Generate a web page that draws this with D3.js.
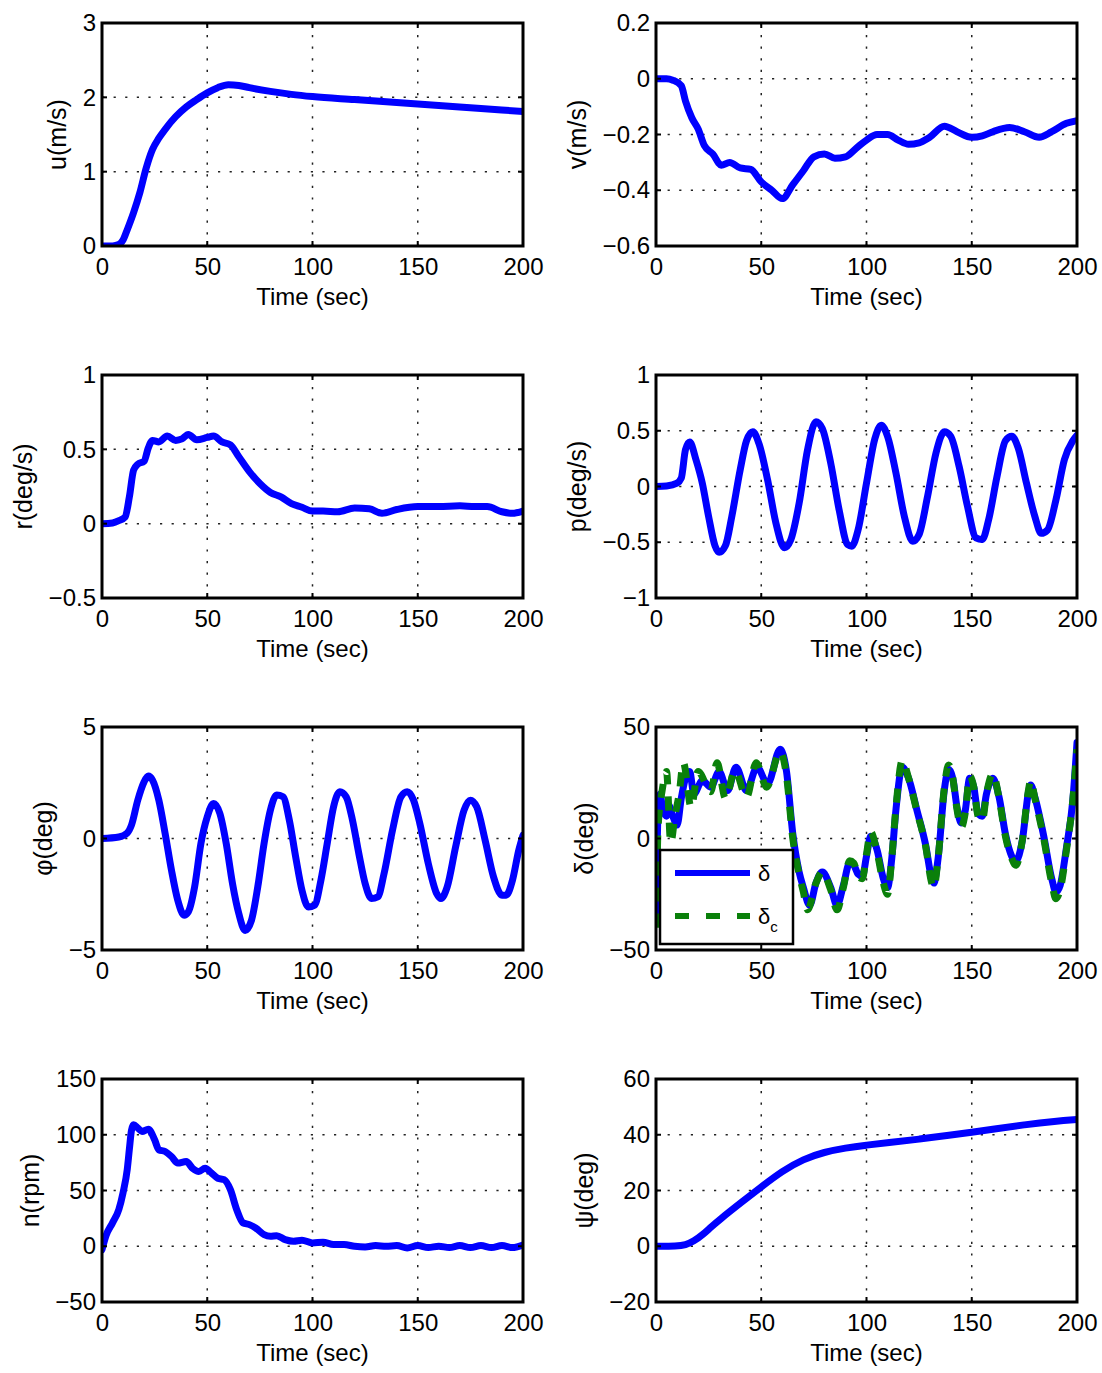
<!DOCTYPE html>
<html><head><meta charset="utf-8">
<script src="https://cdn.jsdelivr.net/npm/d3@7"></script>
<style>
body{margin:0;background:#fff}
svg{display:block}
text{font-family:"Liberation Sans",Arial,Helvetica,sans-serif;fill:#000}
</style>
</head><body>
<svg id="chart" width="1102" height="1373"></svg>
<script>
// ---------------- DATA ----------------
const timeTicks = [0, 50, 100, 150, 200];

const uTicks = [0, 1, 2, 3];
const uTime = [0,5,8,10,12,15,18,21,24,27,30,35,40,45,50,55,60,65,70,80,90,100,120,140,160,180,200];
const uVals = [0,0,0.02,0.08,0.22,0.45,0.72,1.05,1.3,1.45,1.57,1.74,1.87,1.97,2.06,2.13,2.17,2.16,2.13,2.08,2.04,2.01,1.97,1.93,1.89,1.85,1.81];

const vTicks = [-0.6, -0.4, -0.2, 0, 0.2];
const vTime = [0,5,8,12,14,17,20,23,27,31,35,40,45,50,55,60,65,70,75,80,85,90,95,100,105,110,115,120,125,130,137,143,150,155,160,168,175,182,188,195,200];
const vVals = [0,0,-0.005,-0.025,-0.08,-0.14,-0.18,-0.24,-0.27,-0.31,-0.30,-0.32,-0.325,-0.37,-0.40,-0.43,-0.38,-0.33,-0.28,-0.27,-0.285,-0.28,-0.25,-0.22,-0.20,-0.20,-0.22,-0.235,-0.23,-0.21,-0.17,-0.19,-0.21,-0.205,-0.19,-0.175,-0.19,-0.21,-0.19,-0.16,-0.15];

const rTicks = [-0.5, 0, 0.5, 1];
const rTime = [0,5,8,11,13,15,17,20,22,24,27,31,35,38,41,45,50,53,57,61,65,70,75,80,85,90,95,100,105,112,120,127,133,140,150,160,170,177,183,190,195,200];
const rVals = [0,0.005,0.02,0.045,0.18,0.36,0.40,0.42,0.51,0.56,0.55,0.59,0.56,0.57,0.60,0.565,0.58,0.59,0.55,0.53,0.45,0.35,0.27,0.21,0.18,0.135,0.11,0.085,0.085,0.08,0.105,0.10,0.07,0.095,0.115,0.115,0.12,0.115,0.115,0.08,0.07,0.085];

const pTicks = [-1, -0.5, 0, 0.5, 1];
const pTime = [0,5,10,12,14,16,19,22,25,28,30,33,36,40,43,46,49,53,57,61,64,68,72,76,79,83,87,91,93,96,100,104,107,110,114,118,122,125,129,133,137,140,144,148,152,155,158,162,166,169,172,176,180,183,186,190,194,198,200];
const pVals = [0,0.005,0.03,0.075,0.33,0.40,0.24,0.03,-0.27,-0.53,-0.59,-0.53,-0.27,0.15,0.41,0.49,0.38,0.06,-0.33,-0.55,-0.48,-0.15,0.33,0.58,0.52,0.21,-0.21,-0.52,-0.535,-0.39,0.03,0.43,0.55,0.45,0.12,-0.27,-0.49,-0.43,-0.09,0.30,0.49,0.45,0.18,-0.18,-0.46,-0.475,-0.30,0.09,0.41,0.45,0.35,0.03,-0.27,-0.42,-0.39,-0.12,0.24,0.41,0.46];

const phiTicks = [-5, 0, 5];
const phiTime = [0,8,12,14,17,20,22,24,27,30,33,36,39,41,44,47,50,53,56,59,62,65,68,71,74,77,80,83,86,89,92,95,98,101,104,107,110,113,116,119,122,125,128,131,134,138,142,145,148,151,155,159,161,164,168,172,175,178,182,186,190,192,195,198,200];
const phiVals = [0,0.07,0.25,0.6,1.72,2.54,2.8,2.62,1.72,0.22,-1.42,-2.77,-3.44,-3.29,-2.17,-0.22,0.97,1.57,1.12,-0.22,-2.02,-3.37,-4.12,-3.67,-2.17,-0.22,1.27,1.95,1.87,0.82,-0.82,-2.32,-3.07,-2.99,-1.87,-0.22,1.42,2.1,1.87,0.82,-0.67,-2.02,-2.69,-2.62,-1.57,0.37,1.87,2.1,1.72,0.67,-1.12,-2.47,-2.69,-2.17,-0.37,1.27,1.72,1.42,-0.07,-1.72,-2.54,-2.54,-1.87,-0.52,0.15];

const deltaTicks = [-50, 0, 50];
const deltaTime = [0,1,2,3,5,6,8,10,12,14,16,18,22,26,30,34,38,43,48,53,59,62,65,68,70,73,76,79,83,86,89,92,94,96,98,100,102,105,108,110,112,114,117,120,124,128,131,132,134,137,139,141,143,145,147,149,151,153,155,157,160,163,166,169,171,174,177,178,180,184,188,190,192,195,198,200];
const deltaVals = [-35,12,20,14,10,15,10,6,18,27,30,20,26,23,30,21.5,32,21.5,32,24.5,40,30,2,-15,-22,-30,-20,-15,-22,-30,-21,-11,-12,-16,-17,-8,1,-5,-18,-22,-9,13,32,27,12.5,-2.5,-18,-20,-9,22,31,27,14,7,13,27,23,11,10,20,27,18.5,2,-8,-10,-1,21,24,18.5,2,-18,-24,-21,-4,17,43];
const deltaCTime = [0,1,3,5,7,9,11,13,16.7,20,26,29,33,37.5,43,47.6,52.5,59,62,65,68,70,72,76,79,83,86,89,92,94,96,98,100,102,105,108,110,112,114,117,120,124,128,131,132,134,137,139,141,143,145,147,149,151,153,155,157,160,163,166,169,171,174,177,178,180,184,188,190,192,195,198,200];
const deltaCVals = [-40,5,22,30,-2,10,20,34,14,30,21,34,18,30.5,18.5,34,23,39,28,0,-16,-24,-32,-20,-15,-23,-32,-22,-10,-11,-17,-18,-7,3,-6,-20,-25,-9,14,35,27,12,-3,-20,-22,-9,23,33,27,13,5,12,28,23,10,8,20,29,18,1,-9,-12,-1,22,26,18,1,-20,-27,-23,-5,17,40];

const nTicks = [-50, 0, 50, 100, 150];
const nTime = [0,2,5,8,10,12,13,14,15,17,19,22,25,27,30,33,36,40,43,46,49,52,55,58,61,64,67,70,73,77,80,83,87,91,95,100,105,110,115,120,125,130,135,140,145,150,155,160,165,170,175,180,185,190,195,200];
const nVals = [-3,10,21,33,48,69,87,104,109,106,103,105,95.5,86.5,85,80.5,74.6,76,70,67,70,65.7,61,59.7,50.7,32.8,21,19.4,16.4,10.4,9,9.5,6,4.5,5.4,3,3.6,1.5,1.5,0,-0.6,0.6,0,0.6,-1.5,0.6,-1.2,0,-1.2,0.6,-1.2,0.6,-1.2,0.6,-1.2,1.2];

const psiTicks = [-20, 0, 20, 40, 60];
const psiTime = [0,10,14,18,22,26,30,40,50,60,70,80,90,100,110,125,140,150,160,175,190,200];
const psiVals = [0,0,0.4,1.8,4,6.8,9.4,15.4,21.3,27,31.3,33.8,35.3,36.3,37.1,38.4,39.9,40.9,42,43.6,44.9,45.5];

const legendLabels = ["δ", "δ", "c"];

// ---------------- LAYOUT ----------------
const colLeft = [102, 656];
const plotW = 421;
const rowTop = [23, 375, 727, 1079];
const plotH = 223;
const BLUE = "#0000ff", GREEN = "#0a800a";

const panels = [
  {col:0,row:0,label:"u(m/s)",ticks:uTicks,series:[{t:uTime,v:uVals,color:BLUE}]},
  {col:1,row:0,label:"v(m/s)",ticks:vTicks,series:[{t:vTime,v:vVals,color:BLUE}]},
  {col:0,row:1,label:"r(deg/s)",ticks:rTicks,series:[{t:rTime,v:rVals,color:BLUE}]},
  {col:1,row:1,label:"p(deg/s)",ticks:pTicks,series:[{t:pTime,v:pVals,color:BLUE}]},
  {col:0,row:2,label:"φ(deg)",ticks:phiTicks,series:[{t:phiTime,v:phiVals,color:BLUE}]},
  {col:1,row:2,label:"δ(deg)",ticks:deltaTicks,legend:true,series:[{t:deltaTime,v:deltaVals,color:BLUE},{t:deltaCTime,v:deltaCVals,color:GREEN,dash:true}]},
  {col:0,row:3,label:"n(rpm)",ticks:nTicks,series:[{t:nTime,v:nVals,color:BLUE}]},
  {col:1,row:3,label:"ψ(deg)",ticks:psiTicks,smooth:true,series:[{t:psiTime,v:psiVals,color:BLUE}]}
];

const svg = d3.select("#chart");
const fmt = d => (d < 0 ? "\u2212" : "") + String(Math.abs(d));

panels.forEach((p, idx) => {
  const L = colLeft[p.col], T = rowTop[p.row], R = L + plotW, B = T + plotH;
  const x = d3.scaleLinear().domain([0, 200]).range([L, R]);
  const yDom = d3.extent(p.ticks);
  const y = d3.scaleLinear().domain(yDom).range([B, T]);
  const g = svg.append("g");

  g.append("clipPath").attr("id", "clip" + idx)
    .append("rect").attr("x", L).attr("y", T).attr("width", plotW).attr("height", plotH);

  // grid
  const grid = g.append("g").attr("stroke", "#222").attr("stroke-width", 1.5)
    .attr("stroke-dasharray", "2.2,9.4").attr("fill", "none");
  timeTicks.filter(d => d > 0 && d < 200).forEach(d => {
    grid.append("line").attr("x1", x(d)).attr("x2", x(d)).attr("y1", B).attr("y2", T);
  });
  p.ticks.filter(d => d > yDom[0] && d < yDom[1]).forEach(d => {
    grid.append("line").attr("x1", L).attr("x2", R).attr("y1", y(d)).attr("y2", y(d));
  });

  // series
  const lg = g.append("g").attr("clip-path", `url(#clip${idx})`);
  p.series.forEach(s => {
    const line = d3.line().x(i => x(s.t[i])).y(i => y(s.v[i]))
      .curve(p.smooth ? d3.curveBasis : d3.curveMonotoneX);
    const path = lg.append("path").attr("d", line(d3.range(s.t.length)))
      .attr("fill", "none").attr("stroke", s.color).attr("stroke-width", 7)
      .attr("stroke-linejoin", "round");
    if (s.dash) path.attr("stroke-dasharray", "14,12").attr("stroke-linecap", "butt");
    else path.attr("stroke-linecap", "round");
  });

  // frame
  g.append("rect").attr("x", L).attr("y", T).attr("width", plotW).attr("height", plotH)
    .attr("fill", "none").attr("stroke", "#000").attr("stroke-width", 3);

  // inward ticks
  const tk = g.append("g").attr("stroke", "#000").attr("stroke-width", 2);
  timeTicks.forEach(d => {
    tk.append("line").attr("x1", x(d)).attr("x2", x(d)).attr("y1", B).attr("y2", B - 5);
    tk.append("line").attr("x1", x(d)).attr("x2", x(d)).attr("y1", T).attr("y2", T + 5);
  });
  p.ticks.forEach(d => {
    tk.append("line").attr("x1", L).attr("x2", L + 5).attr("y1", y(d)).attr("y2", y(d));
    tk.append("line").attr("x1", R).attr("x2", R - 5).attr("y1", y(d)).attr("y2", y(d));
  });

  // axes labels via d3 axes
  const ax = g.append("g").attr("transform", `translate(0,${B})`)
    .call(d3.axisBottom(x).tickValues(timeTicks).tickFormat(fmt).tickSize(0).tickPadding(12));
  const ay = g.append("g").attr("transform", `translate(${L},0)`)
    .call(d3.axisLeft(y).tickValues(p.ticks).tickFormat(fmt).tickSize(0).tickPadding(6));
  [ax, ay].forEach(a => {
    a.select(".domain").remove();
    a.selectAll("text").attr("font-size", 24).attr("fill", "#000")
      .style("font-family", '"Liberation Sans",Arial,sans-serif');
  });

  let maxW = 0;
  ay.selectAll("text").each(function () { maxW = Math.max(maxW, this.getComputedTextLength()); });
  const labelX = L - 6 - maxW - 25;

  g.append("text").attr("x", (L + R) / 2).attr("y", B + 59)
    .attr("text-anchor", "middle").attr("font-size", 24).text("Time (sec)");
  g.append("text").attr("transform", `translate(${labelX},${(T + B) / 2}) rotate(-90)`)
    .attr("dy", "0.35em").attr("text-anchor", "middle").attr("font-size", 25).text(p.label);

  if (p.legend) {
    const lgx = L + 4, lgy = T + 123;
    const leg = g.append("g");
    leg.append("rect").attr("x", lgx).attr("y", lgy).attr("width", 133).attr("height", 94)
      .attr("fill", "#fff").attr("stroke", "#000").attr("stroke-width", 2.5);
    leg.append("line").attr("x1", lgx + 15).attr("x2", lgx + 90).attr("y1", lgy + 23).attr("y2", lgy + 23)
      .attr("stroke", BLUE).attr("stroke-width", 6);
    leg.append("line").attr("x1", lgx + 15).attr("x2", lgx + 90).attr("y1", lgy + 66).attr("y2", lgy + 66)
      .attr("stroke", GREEN).attr("stroke-width", 6).attr("stroke-dasharray", "14,17");
    leg.append("text").attr("x", lgx + 98).attr("y", lgy + 31).attr("font-size", 22).text(legendLabels[0]);
    const t2 = leg.append("text").attr("x", lgx + 98).attr("y", lgy + 74).attr("font-size", 22);
    t2.append("tspan").text(legendLabels[1]);
    t2.append("tspan").attr("font-size", 15).attr("dy", 8).text(legendLabels[2]);
  }
});
</script>
</body></html>
